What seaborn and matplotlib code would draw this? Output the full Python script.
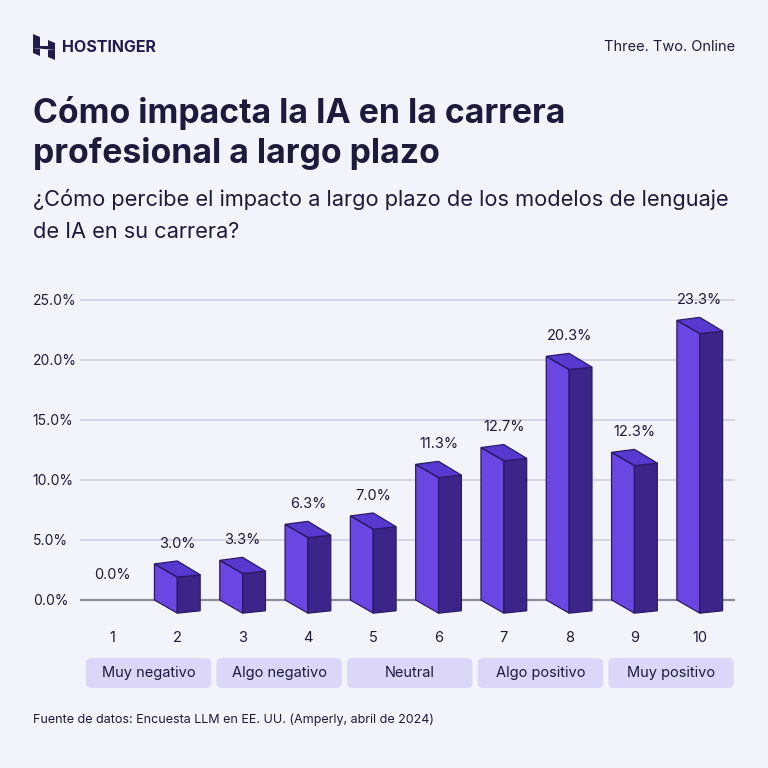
import matplotlib
matplotlib.use('Agg')
import matplotlib.pyplot as plt
import seaborn as sns
import pandas as pd
from matplotlib.patches import Polygon, FancyBboxPatch

# datos
escala = list(range(1, 11))
porcentaje = [0.0, 3.0, 3.3, 6.3, 7.0, 11.3, 12.7, 20.3, 12.3, 23.3]
ticks_y = [0, 5, 10, 15, 20, 25]
etiquetas_y = ['0.0%', '5.0%', '10.0%', '15.0%', '20.0%', '25.0%']
categorias = ['Muy negativo', 'Algo negativo', 'Neutral', 'Algo positivo', 'Muy positivo']

FONDO = '#f3f3fb'
TEXTO = '#1c1b3b'
FRENTE = '#6a46e2'
LADO = '#3b2589'
TAPA = '#5839cf'
BORDE = '#2a1a66'

sns.set_theme(style="white")
plt.rcParams['font.family'] = ['Inter', 'DejaVu Sans']

fig = plt.figure(figsize=(7.68, 7.68), dpi=100, facecolor=FONDO)
ax = fig.add_axes([80 / 768, 1 - 620 / 768, 655 / 768, 330 / 768])
ax.set_facecolor(FONDO)

df = pd.DataFrame({'x': [e - 0.175 for e in escala], 'y': porcentaje})
w = 0.35
sns.barplot(data=df, x='x', y='y', native_scale=True, width=w, color=FRENTE,
            saturation=1, linewidth=0, ax=ax, zorder=3)

# caras 3D
dy_f = 1.1   # caida de la arista frontal
dy_l = 0.9   # caida de la esquina derecha
dy_b = 0.25  # subida de la esquina trasera
for i, v in zip(escala, porcentaje):
    if v <= 0:
        continue
    ax.add_patch(Polygon([(i - w, 0), (i, 0), (i, -dy_f)], closed=True,
                         facecolor=FRENTE, edgecolor='none', zorder=3))
    ax.add_patch(Polygon([(i, v - dy_f), (i + w, v - dy_l), (i + w, -dy_l), (i, -dy_f)],
                         closed=True, facecolor=LADO, edgecolor=BORDE, lw=0.9, zorder=4))
    ax.add_patch(Polygon([(i - w, v), (i, v + dy_b), (i + w, v - dy_l), (i, v - dy_f)],
                         closed=True, facecolor=TAPA, edgecolor=BORDE, lw=0.9, zorder=5))
    ax.add_patch(Polygon([(i - w, v), (i, v - dy_f), (i, -dy_f), (i - w, 0)],
                         closed=True, facecolor='none', edgecolor=BORDE, lw=0.9, zorder=5))
    ax.text(i, v + 1.7, f'{v:.1f}%', ha='center', va='center', fontsize=10.5,
            color=TEXTO, zorder=6)
ax.text(1, 0 + 2.1, f'{porcentaje[0]:.1f}%', ha='center', va='center', fontsize=10.5,
        color=TEXTO)

ax.set_xlim(0.51, 10.54)
ax.set_ylim(-1.67, 25.83)
ax.set_yticks(ticks_y)
ax.set_yticklabels(etiquetas_y)
for t in ax.get_yticklabels():
    t.set_ha('left')
ax.tick_params(axis='y', length=0, pad=34, labelsize=10, labelcolor=TEXTO)
ax.set_xticks(escala)
ax.set_xticklabels([str(e) for e in escala])
ax.tick_params(axis='x', length=0, pad=8, labelsize=10.5, labelcolor=TEXTO)
ax.set_xlabel('')
ax.set_ylabel('')
ax.grid(axis='y', color='#cfcfdc', lw=1.2, zorder=0)
ax.axhline(0, color='#8d8d99', lw=1.6, zorder=1)
for s in ax.spines.values():
    s.set_visible(False)

# cajas de categorias
inv = fig.transFigure.inverted()
for k, nombre in enumerate(categorias):
    x0 = inv.transform(ax.transData.transform((2 * k + 1 - 0.4, 0)))[0]
    x1 = inv.transform(ax.transData.transform((2 * k + 2 + 0.52, 0)))[0]
    y0, y1 = 1 - 688 / 768, 1 - 658 / 768
    fig.add_artist(FancyBboxPatch((x0, y0), x1 - x0, y1 - y0,
                                  boxstyle='round,pad=0,rounding_size=0.007',
                                  transform=fig.transFigure, facecolor='#dcd7f9',
                                  edgecolor='none'))
    fig.text((x0 + x1) / 2, (y0 + y1) / 2, nombre, ha='center', va='center',
             fontsize=10.5, color=TEXTO)

# encabezado
def px(x, y):
    return (x / 768, 1 - y / 768)

logo = [
    [(33, 34), (40, 37), (40, 46), (33, 46)],
    [(48, 40), (55, 43), (55, 46), (48, 46)],
    [(33, 46), (55, 46), (55, 50), (33, 48)],
    [(33, 48), (40, 49), (40, 56), (33, 53)],
    [(48, 50), (55, 50), (55, 60), (48, 57)],
]
for pts in logo:
    fig.add_artist(Polygon([px(*p) for p in pts], closed=True, transform=fig.transFigure,
                           facecolor='#231a4d', edgecolor='none'))
fig.text(*px(62, 47), 'HOSTINGER', ha='left', va='center', fontsize=11.5,
         fontweight='bold', color='#231a4d')
fig.text(*px(735, 47), 'Three. Two. Online', ha='right', va='center', fontsize=10.5,
         color=TEXTO)

fig.text(*px(33, 113), 'Cómo impacta la IA en la carrera', ha='left', va='center',
         fontsize=24.3, fontweight='bold', color=TEXTO)
fig.text(*px(33, 153), 'profesional a largo plazo', ha='left', va='center',
         fontsize=24.3, fontweight='bold', color=TEXTO)
fig.text(*px(33, 199), '¿Cómo percibe el impacto a largo plazo de los modelos de lenguaje',
         ha='left', va='center', fontsize=15.7, color=TEXTO)
fig.text(*px(33, 232), 'de IA en su carrera?', ha='left', va='center', fontsize=15.7,
         color=TEXTO)
fig.text(*px(33, 720), 'Fuente de datos: Encuesta LLM en EE. UU. (Amperly, abril de 2024)',
         ha='left', va='center', fontsize=9, color=TEXTO)

fig.savefig('out.png', dpi=100, facecolor=FONDO)
